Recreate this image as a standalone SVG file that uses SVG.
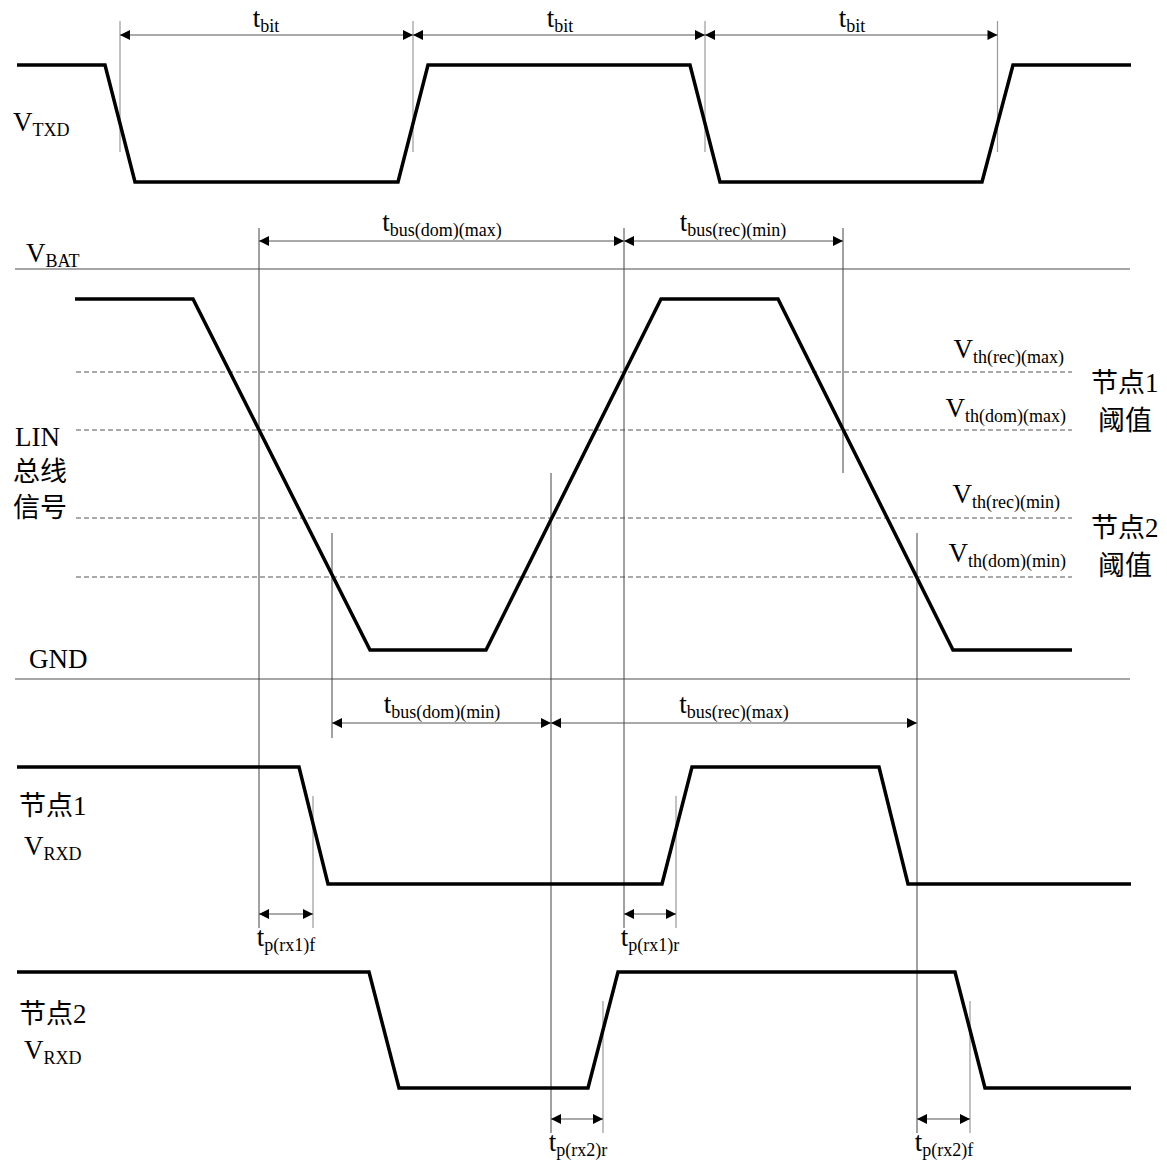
<svg xmlns="http://www.w3.org/2000/svg" width="1167" height="1166" viewBox="0 0 1167 1166">
<defs>
<marker id="ah" viewBox="0 0 10 10" refX="10" refY="5" markerWidth="11" markerHeight="10" markerUnits="userSpaceOnUse" orient="auto-start-reverse">
<path d="M0,0 L10,5 L0,10 Z" fill="#000"/>
</marker>
</defs>
<style>
.sig{fill:none;stroke:#000;stroke-width:3.5;stroke-linejoin:miter}
.ext{stroke:#999;stroke-width:1.2;fill:none}
.vl{stroke:#444;stroke-width:1;fill:none}
.rail{stroke:#888;stroke-width:1.3;fill:none}
.dash{stroke:#555;stroke-width:1;stroke-dasharray:5,3;fill:none}
.dim{stroke:#555;stroke-width:1;fill:none;marker-start:url(#ah);marker-end:url(#ah)}
text{font-family:"Liberation Serif","Noto Sans CJK SC",serif;font-size:27px;fill:#000}
.s{font-size:18px}
.m{text-anchor:middle}
.e{text-anchor:end}
</style>
<g id="rails">
<line class="rail" x1="15" y1="269" x2="1130" y2="269"/>
<line class="rail" x1="15" y1="679" x2="1130" y2="679"/>
<line class="dash" x1="76" y1="372" x2="1072" y2="372"/>
<line class="dash" x1="76" y1="430" x2="1072" y2="430"/>
<line class="dash" x1="76" y1="518" x2="1072" y2="518"/>
<line class="dash" x1="76" y1="577" x2="1072" y2="577"/>
</g>
<g id="guides">
<line class="ext" x1="120" y1="21" x2="120" y2="152"/>
<line class="ext" x1="413" y1="21" x2="413" y2="152"/>
<line class="ext" x1="705" y1="21" x2="705" y2="152"/>
<line class="ext" x1="997.5" y1="21" x2="997.5" y2="152"/>
<line class="vl" x1="259" y1="228" x2="259" y2="928"/>
<line class="vl" x1="624" y1="228" x2="624" y2="928"/>
<line class="vl" x1="843" y1="228" x2="843" y2="473"/>
<line class="vl" x1="332" y1="533" x2="332" y2="738"/>
<line class="vl" x1="551" y1="473" x2="551" y2="1133"/>
<line class="vl" x1="917" y1="533" x2="917" y2="1133"/>
<line class="ext" x1="313" y1="796" x2="313" y2="928"/>
<line class="ext" x1="676" y1="796" x2="676" y2="928"/>
<line class="ext" x1="603" y1="1001" x2="603" y2="1133"/>
<line class="ext" x1="970" y1="1001" x2="970" y2="1133"/>
</g>
<g id="connectors">
<line class="dim" x1="120" y1="35" x2="413" y2="35"/>
<line class="dim" x1="413" y1="35" x2="705" y2="35"/>
<line class="dim" x1="705" y1="35" x2="997.5" y2="35"/>
<line class="dim" x1="259" y1="241" x2="624" y2="241"/>
<line class="dim" x1="624" y1="241" x2="843" y2="241"/>
<line class="dim" x1="332" y1="723" x2="551" y2="723"/>
<line class="dim" x1="551" y1="723" x2="917" y2="723"/>
<line class="dim" x1="259" y1="914" x2="313" y2="914"/>
<line class="dim" x1="624" y1="914" x2="676" y2="914"/>
<line class="dim" x1="551" y1="1119" x2="603" y2="1119"/>
<line class="dim" x1="917" y1="1119" x2="970" y2="1119"/>
</g>
<g id="sig-txd"><path class="sig" d="M17,65 H105 L135,182 H398 L428,65 H690 L720,182 H982 L1013,65 H1131"/></g>
<g id="sig-lin"><path class="sig" d="M75,299 H193 L370,650 H486 L661,299 H778 L953,650 H1072"/></g>
<g id="sig-rxd1"><path class="sig" d="M17,767 H299 L328,884 H662 L692,767 H879 L908,884 H1131"/></g>
<g id="sig-rxd2"><path class="sig" d="M17,972 H369 L399,1088 H588 L618,972 H955 L985,1088 H1131"/></g>
<g id="labels">
<text class="m" x="266" y="27">t<tspan class="s" dy="5">bit</tspan></text>
<text class="m" x="560" y="27">t<tspan class="s" dy="5">bit</tspan></text>
<text class="m" x="852" y="27">t<tspan class="s" dy="5">bit</tspan></text>
<text x="13" y="131">V<tspan class="s" dy="5">TXD</tspan></text>
<text x="26" y="262">V<tspan class="s" dy="5">BAT</tspan></text>
<text x="29" y="668">GND</text>
<text x="15" y="446">LIN</text>
<text x="13" y="481">总线</text>
<text x="13" y="517">信号</text>
<text class="m" x="442" y="231">t<tspan class="s" dy="5">bus(dom)(max)</tspan></text>
<text class="m" x="733" y="231">t<tspan class="s" dy="5">bus(rec)(min)</tspan></text>
<text class="m" x="442" y="713">t<tspan class="s" dy="5">bus(dom)(min)</tspan></text>
<text class="m" x="734" y="713">t<tspan class="s" dy="5">bus(rec)(max)</tspan></text>
<text class="e" x="1064" y="358">V<tspan class="s" dy="5">th(rec)(max)</tspan></text>
<text class="e" x="1066" y="417">V<tspan class="s" dy="5">th(dom)(max)</tspan></text>
<text class="e" x="1060" y="503">V<tspan class="s" dy="5">th(rec)(min)</tspan></text>
<text class="e" x="1066" y="562">V<tspan class="s" dy="5">th(dom)(min)</tspan></text>
<text x="1091" y="392">节点1</text>
<text x="1098" y="430">阈值</text>
<text x="1091" y="537">节点2</text>
<text x="1098" y="575">阈值</text>
<text x="19" y="815">节点1</text>
<text x="24" y="855">V<tspan class="s" dy="5">RXD</tspan></text>
<text x="19" y="1023">节点2</text>
<text x="24" y="1059">V<tspan class="s" dy="5">RXD</tspan></text>
<text class="m" x="286" y="946">t<tspan class="s" dy="5">p(rx1)f</tspan></text>
<text class="m" x="650" y="946">t<tspan class="s" dy="5">p(rx1)r</tspan></text>
<text class="m" x="578" y="1151">t<tspan class="s" dy="5">p(rx2)r</tspan></text>
<text class="m" x="944" y="1151">t<tspan class="s" dy="5">p(rx2)f</tspan></text>
</g>
</svg>
